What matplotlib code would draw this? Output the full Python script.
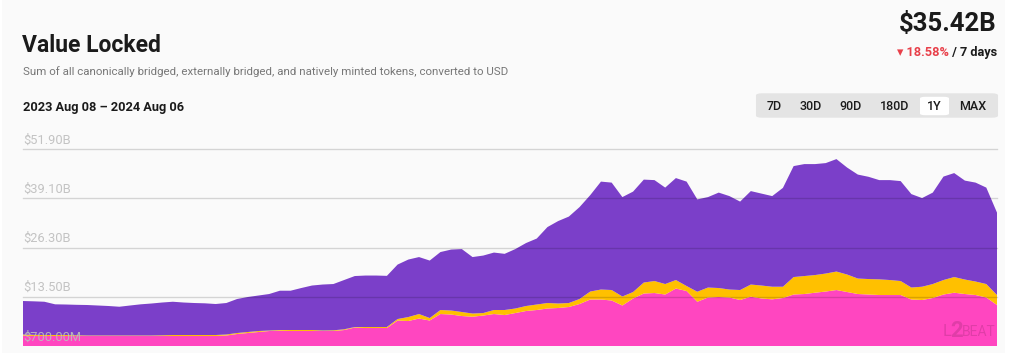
import matplotlib
matplotlib.use("Agg")
import matplotlib.pyplot as plt
import matplotlib.transforms as mtransforms
from matplotlib.patches import FancyBboxPatch, Rectangle
import numpy as np
import pandas as pd

plt.rcParams["font.family"] = ["Roboto", "DejaVu Sans"]

# values in $B, one point every 4 days from 2023-08-08 to 2024-08-06
start = "2023-08-08"
step_days = 4

native = [3.43, 3.30, 3.30, 3.30, 3.30, 3.30, 3.30, 3.30, 3.30, 3.30,
          3.30, 3.30, 3.30, 3.30, 3.30, 3.30, 3.30, 3.30, 3.30, 3.43,
          3.82, 4.08, 4.34, 4.60, 4.68, 4.60, 4.60, 4.60, 4.60, 4.60,
          4.85, 5.51, 5.38, 5.38, 5.38, 7.33, 7.20, 7.85, 7.33, 9.02,
          8.89, 8.50, 8.32, 8.63, 9.02, 8.76, 9.28, 9.81, 10.07, 10.46,
          10.59, 10.85, 11.63, 12.80, 12.80, 12.54, 11.24, 13.06, 14.36, 14.49,
          14.10, 15.66, 15.01, 12.22, 13.32, 13.45, 13.32, 12.67, 13.53, 13.06,
          12.85, 13.19, 14.10, 14.23, 14.57, 14.88, 15.27, 14.75, 14.23, 14.10,
          13.97, 13.97, 13.97, 12.80, 12.67, 13.19, 14.10, 14.57, 14.23, 13.97,
          13.32, 11.37]

external = [0.26, 0.31, 0.26, 0.26, 0.26, 0.18, 0.13, 0.13, 0.13, 0.13,
            0.13, 0.13, 0.13, 0.18, 0.26, 0.26, 0.26, 0.26, 0.26, 0.26,
            0.26, 0.26, 0.26, 0.13, 0.18, 0.26, 0.26, 0.26, 0.13, 0.18,
            0.20, 0.13, 0.26, 0.26, 0.26, 0.39, 1.04, 1.17, 0.65, 1.05,
            1.05, 1.05, 0.83, 0.65, 1.05, 1.31, 1.18, 1.30, 1.43, 1.43,
            1.17, 1.04, 1.30, 2.08, 2.60, 2.73, 2.34, 1.69, 2.86, 3.12,
            2.73, 2.21, 1.30, 2.61, 2.60, 2.34, 2.08, 2.60, 3.17, 3.38,
            3.28, 2.94, 4.55, 4.68, 4.60, 4.68, 4.81, 4.55, 4.03, 4.03,
            4.08, 3.90, 3.64, 3.12, 3.46, 3.64, 3.77, 4.08, 3.77, 3.51,
            3.51, 2.60]

canonical = [8.72, 8.72, 8.66, 7.99, 7.94, 7.94, 7.94, 7.81, 7.68, 7.49,
             7.81, 8.12, 8.33, 8.54, 8.66, 8.46, 8.33, 8.25, 8.07, 8.20,
             8.85, 9.11, 9.24, 9.50, 10.23, 10.23, 10.93, 11.58, 11.97, 12.05,
             12.82, 13.27, 13.40, 13.40, 13.32, 14.18, 14.96, 14.83, 14.96, 15.08,
             15.86, 16.38, 14.70, 14.96, 14.95, 14.62, 15.47, 16.39, 17.17, 19.77,
             21.46, 22.50, 23.93, 25.10, 28.09, 27.96, 25.88, 26.14, 26.79, 26.27,
             25.10, 26.54, 27.18, 24.03, 23.54, 24.84, 24.32, 23.02, 24.32, 23.93,
             23.59, 25.73, 28.88, 29.14, 28.88, 28.75, 29.27, 27.84, 27.06, 26.61,
             25.83, 26.01, 26.01, 24.32, 23.07, 23.80, 26.93, 27.06, 25.75, 25.75,
             25.10, 21.45]

y_ticks = [0.7, 13.5, 26.3, 39.1, 51.9]
ranges = ["7D", "30D", "90D", "180D", "1Y", "MAX"]
active_range = "1Y"
total_now = "$35.42B"
change_7d = "18.58%"

PINK = "#ff46c0"
YELLOW = "#ffc000"
PURPLE = "#7b3fc9"
BG = "#fafafa"

dates = pd.date_range(start, periods=len(native), freq=f"{step_days}D")

W, H = 1012, 356
fig = plt.figure(figsize=(W / 100, H / 100), dpi=100)
fig.patch.set_facecolor("white")
fig.patches.append(Rectangle((2 / W, 3 / H), 1003 / W, 1 - 3 / H,
                             transform=fig.transFigure, facecolor=BG,
                             edgecolor="none", zorder=-10))


def px(x, y):
    return x / W, 1 - y / H


# header
fig.text(*px(22, 52), "Value Locked", fontsize=16.5, fontweight="bold",
         color="#1b1b1b", va="baseline")
fig.text(*px(23, 75), "Sum of all canonically bridged, externally bridged, and natively minted tokens, converted to USD",
         fontsize=8.25, color="#777777", va="baseline")
fig.text(*px(23, 111),
         f"{dates[0]:%Y %b %d} \u2013 {dates[-1]:%Y %b %d}",
         fontsize=9.2, fontweight="bold", color="#1b1b1b", va="baseline")

fig.text(*px(997, 31), total_now, fontsize=18.5, fontweight="bold",
         color="#1b1b1b", ha="right", va="baseline")
t = fig.text(*px(997, 56), " / 7 days", fontsize=9.2, fontweight="bold",
             color="#1b1b1b", ha="right", va="baseline")
fig.canvas.draw()
bb = t.get_window_extent()
fig.text(bb.x0 / W, 1 - 56 / H, "\u25be " + change_7d, fontsize=9.2,
         fontweight="bold", color="#e8404a", ha="right", va="baseline")

# range selector
fig.patches.append(FancyBboxPatch(px(758, 117), 238 / W, 23 / H,
                                  boxstyle="round,pad=0.002,rounding_size=0.006",
                                  transform=fig.transFigure, facecolor="#e4e4e4",
                                  edgecolor="none"))
centers = [774, 810.5, 850.5, 895, 934.5, 972.5]
for lab, cx in zip(ranges, centers):
    if lab == active_range:
        fig.patches.append(FancyBboxPatch(px(922, 114.5), 25 / W, 17 / H,
                                          boxstyle="round,pad=0.002,rounding_size=0.005",
                                          transform=fig.transFigure,
                                          facecolor="white", edgecolor="none"))
    fig.text(*px(cx, 106.5), lab, fontsize=9, fontweight="medium",
             color="#1b1b1b", ha="center", va="center")

# chart
ax = fig.add_axes([23 / W, 10 / H, 974 / W, 196.7 / H])
ax.set_facecolor("none")
ax.stackplot(dates, native, external, canonical,
             colors=[PINK, YELLOW, PURPLE], linewidth=0)
ax.set_xlim(dates[0], dates[-1])
ax.set_ylim(y_ticks[0], y_ticks[-1])
for s in ax.spines.values():
    s.set_visible(False)
ax.set_xticks([])
ax.set_yticks([])

trans = mtransforms.blended_transform_factory(ax.transAxes, ax.transData)
for v in y_ticks:
    if v > y_ticks[0]:
        ax.axhline(v, color="black", alpha=0.15, lw=1.0, zorder=3, clip_on=False)
    lab = f"${v * 1000:.2f}M" if v < 1 else f"${v:.2f}B"
    ax.annotate(lab, (0, v), xycoords=trans, xytext=(0, 4),
                textcoords="offset points", fontsize=9.3, color="#bdbdbd",
                alpha=0.9, va="baseline", ha="left", zorder=4)

# watermark
wm = dict(transform=ax.transAxes, color="black", alpha=0.12, va="baseline",
          zorder=4)
ax.text(0.9445, 0.05, "L", fontsize=12, **wm)
ax.text(0.9515, 0.045, "2", fontsize=16, fontweight="bold", **wm)
ax.text(0.9635, 0.05, "BEAT", fontsize=10, **wm)

fig.savefig("out.png", dpi=100, facecolor=fig.get_facecolor())
